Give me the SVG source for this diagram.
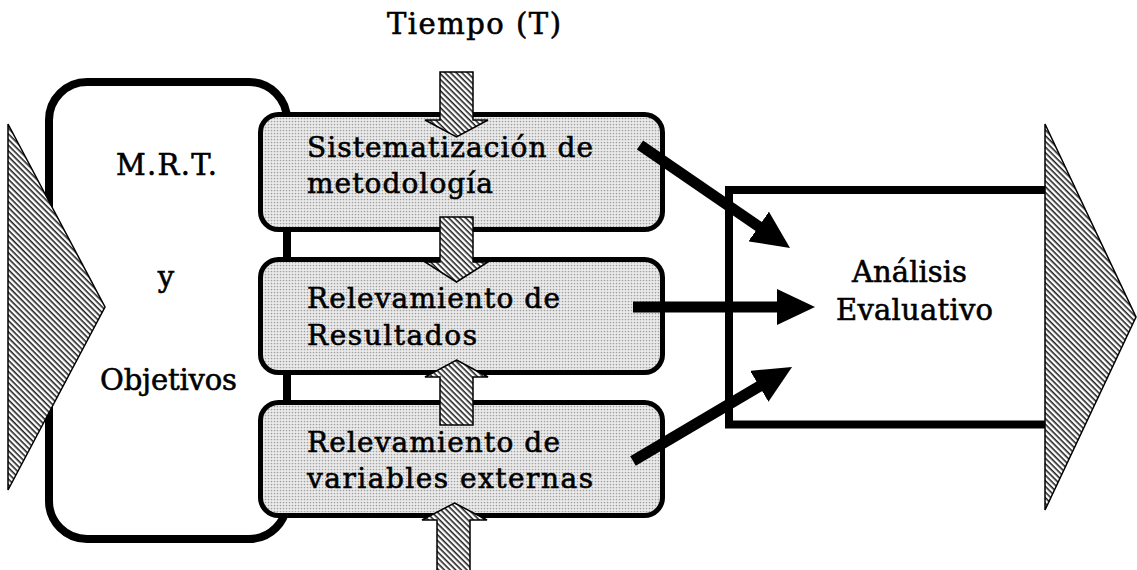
<svg xmlns="http://www.w3.org/2000/svg" width="1137" height="570" viewBox="0 0 1137 570">
<style>
text{font-family:"DejaVu Serif","Liberation Serif",serif;fill:#000;stroke:#000;stroke-width:0.6}
.t26{font-size:28px}
.t28{font-size:29px}
.big{fill:#fff;stroke:#000;stroke-width:8}
.box{fill:url(#dots);stroke:#000;stroke-width:5}
.hatch{fill:url(#hatch);stroke:#000;stroke-width:1.5;stroke-linejoin:miter}
.conn{stroke:#000;stroke-width:11;fill:none;marker-end:url(#head)}
</style>
<defs>
<pattern id="dots" patternUnits="userSpaceOnUse" width="3" height="3">
<rect width="3" height="3" fill="#ebebeb"/>
<circle cx="1.5" cy="1.5" r="0.85" fill="#a0a0a0"/>
</pattern>
<pattern id="hatch" patternUnits="userSpaceOnUse" width="4" height="4" patternTransform="rotate(45)">
<rect width="4" height="4" fill="#fff"/>
<rect width="4" height="1.6" fill="#222"/>
</pattern>
<marker id="head" markerUnits="userSpaceOnUse" markerWidth="38" markerHeight="36" viewBox="0 0 38 36" refX="8" refY="18" orient="auto">
<path d="M0,0 L38,18 L0,36 Z" fill="#000"/>
</marker>
</defs>

<text class="t28" x="387" y="34" textLength="174" lengthAdjust="spacing">Tiempo (T)</text>

<g id="mrt">
<rect class="big" x="49" y="82" width="238" height="457" rx="38"/>
<text class="t28" x="116" y="175" textLength="101" lengthAdjust="spacing">M.R.T.</text>
<text class="t28" x="166" y="287" text-anchor="middle">y</text>
<text class="t28" x="100" y="390" textLength="137" lengthAdjust="spacing">Objetivos</text>
</g>

<g id="entrada">
<polygon class="hatch" points="8,124 105,307 8,490"/>
</g>

<g id="analisis">
<rect class="big" x="729" y="190" width="330" height="234.5"/>
<text class="t28" x="852" y="282" textLength="115" lengthAdjust="spacing">Análisis</text>
<text class="t28" x="836" y="320" textLength="157" lengthAdjust="spacing">Evaluativo</text>
</g>

<g id="salida">
<polygon class="hatch" points="1045,124 1136,317 1045,510"/>
</g>

<g id="sistematizacion">
<rect class="box" x="260.5" y="114.5" width="402" height="115" rx="18"/>
<text class="t26" x="307" y="157" textLength="286" lengthAdjust="spacing">Sistematización de</text>
<text class="t26" x="307" y="193" textLength="186" lengthAdjust="spacing">metodología</text>
</g>

<g id="resultados">
<rect class="box" x="260.5" y="259.5" width="402" height="113" rx="18"/>
<text class="t26" x="307" y="308" textLength="253" lengthAdjust="spacing">Relevamiento de</text>
<text class="t26" x="307" y="345" textLength="170" lengthAdjust="spacing">Resultados</text>
</g>

<g id="variables">
<rect class="box" x="260.5" y="402.5" width="402" height="113" rx="18"/>
<text class="t26" x="307" y="452" textLength="253" lengthAdjust="spacing">Relevamiento de</text>
<text class="t26" x="307" y="488" textLength="286" lengthAdjust="spacing">variables externas</text>
</g>

<g id="flechas-tiempo">
<polygon class="hatch" points="440,72 473,72 473,120 488,120 456.5,137 425,120 440,120"/>
<polygon class="hatch" points="440,217 473,217 473,262 488,262 456.5,282 425,262 440,262"/>
<polygon class="hatch" points="456.5,360 488,377 473,377 473,425 440,425 440,377 425,377"/>
<polygon class="hatch" points="454.5,503 487,520 470,520 470,572 437,572 437,520 422,520"/>
</g>

<g id="connectors">
<line class="conn" x1="640" y1="145" x2="765.3" y2="231"/>
<line class="conn" x1="633" y1="307" x2="785" y2="307"/>
<line class="conn" x1="633" y1="461" x2="766.2" y2="382.3"/>
</g>
</svg>
